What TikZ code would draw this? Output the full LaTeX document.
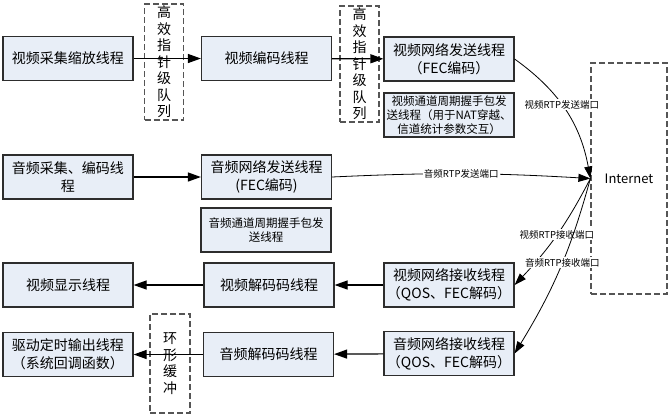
\documentclass[tikz,border=0pt]{standalone}
\usepackage{fontspec}
\setmainfont{Noto Sans CJK SC}
\usetikzlibrary{arrows.meta}
\definecolor{boxfill}{RGB}{232,238,247}
\definecolor{boxline}{RGB}{45,45,45}
\definecolor{dashline}{RGB}{85,85,85}
\tikzset{
  box/.style={draw=boxline, fill=boxfill, line width=1.2pt, minimum width=130pt, minimum height=44pt, inner sep=1pt, align=center, font=\fontsize{14}{18}\selectfont},
  smallbox/.style={box, font=\fontsize{11.5}{14}\selectfont},
  queue/.style={draw=dashline, dash pattern=on 6pt off 3pt, line width=1.2pt, minimum width=39pt, inner sep=0pt, align=center, font=\fontsize{14}{16.5}\selectfont},
  flow/.style={-{Triangle[length=13pt,width=9pt]}, line width=1.2pt, draw=black},
  link/.style={-{Triangle[length=12pt,width=8pt]}, line width=0.8pt, draw=black},
  port/.style={fill=white, inner sep=1pt, font=\fontsize{9.5}{11}\selectfont}
}

\begin{document}
\begin{tikzpicture}[x=1pt, y=-1pt]
  \useasboundingbox (0,0) rectangle (672,416);

  \node[box] (vcap) at (68,58.5) {视频采集缩放线程};
  \node[queue, minimum height=116pt] (qa) at (164,62) {高\\效\\指\\针\\级\\队\\列};
  \node[box] (venc) at (266.5,58.5) {视频编码线程};
  \node[queue, minimum height=116pt] (qb) at (359.5,64) {高\\效\\指\\针\\级\\队\\列};
  \node[box] (vsend) at (449,59) {视频网络发送线程\\（FEC编码）};
  \node[smallbox] (vshake) at (449,115) {视频通道周期握手包发\\送线程（用于NAT穿越、\\信道统计参数交互）};

  \node[box] (acap) at (68,177) {音频采集、编码线\\程};
  \node[box] (asend) at (266.5,177) {音频网络发送线程\\(FEC编码)};
  \node[smallbox] (ashake) at (266,230) {音频通道周期握手包发\\送线程};

  \node[queue, minimum width=76pt, minimum height=231pt, font=\fontsize{13}{16}\selectfont] (inet) at (629,178.5) {Internet};

  \node[box] (vshow) at (68,285) {视频显示线程};
  \node[box] (vdec) at (269,285) {视频解码码线程};
  \node[box] (vrecv) at (449,285) {视频网络接收线程\\（QOS、FEC解码）};

  \node[box] (drv) at (68,354.5) {驱动定时输出线程\\（系统回调函数）};
  \node[queue, minimum width=40pt, minimum height=99pt] (ring) at (170,363.5) {环\\形\\缓\\冲};
  \node[box] (adec) at (268.5,354.5) {音频解码码线程};
  \node[box] (arecv) at (449,353.5) {音频网络接收线程\\（QOS、FEC解码）};

  \draw[flow] (vcap) -- (venc);
  \draw[flow] (venc) -- (vsend);
  \draw[flow] (acap) -- (asend);
  \draw[flow] (vrecv) -- (vdec);
  \draw[flow] (vdec) -- (vshow);
  \draw[flow] (arecv) -- (adec);
  \draw[flow] (adec) -- (drv);

  \draw[link] (vsend.east) to[bend left=22] node[port, pos=0.45] (pvs) {视频RTP发送端口} (inet.west);
  \draw[link] (asend.east) to[bend left=3] node[port] (pas) {音频RTP发送端口} (inet.west);
  \draw[link] (inet.west) to[bend left=8] node[port, pos=0.5] (pvr) {视频RTP接收端口} (vrecv.east);
  \draw[link] (inet.west) to[bend left=8] node[port, pos=0.46] (par) {音频RTP接收端口} (arecv.east);
\end{tikzpicture}
\end{document}
